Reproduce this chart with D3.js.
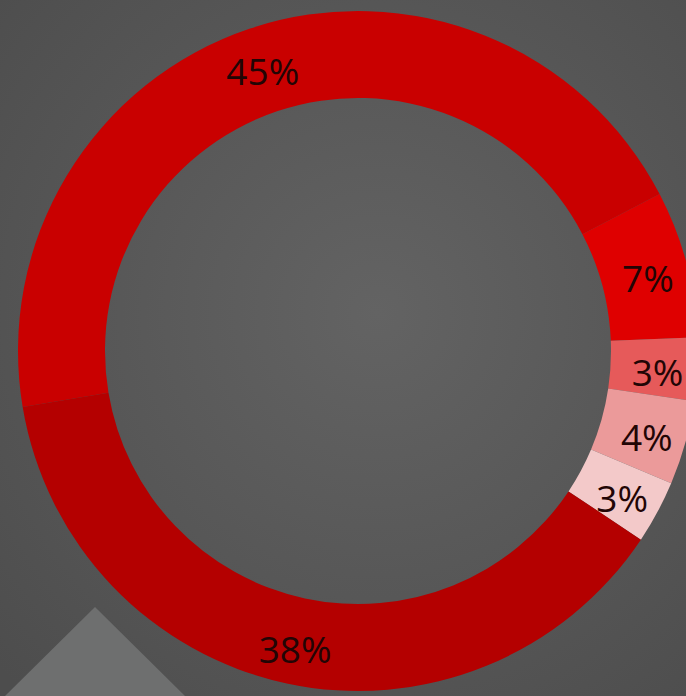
<!DOCTYPE html>
<html>
<head>
<meta charset="utf-8">
<script src="https://cdn.jsdelivr.net/npm/d3@7"></script>
<style>
  html, body { margin: 0; padding: 0; background: #555; overflow: hidden; }
</style>
</head>
<body>
<div class="container"></div>
<script>
const WIDTH = 686;
const HEIGHT = 696;
const CX = 358, CY = 351;
const OUTER = 340, INNER = 253;
const LABELRADIUS = 300;

// slices, clockwise from the left side
var labels = ["45%", "7%", "3%", "4%", "3%", "38%"];
var values = [45, 7, 3, 4, 3, 38];
var colors = ["#c90000", "#df0000", "#e65a5a", "#eb9a9a", "#f3c9c9", "#b40000"];

var startAngle = -99.5 * Math.PI / 180;

var svg = d3.select(".container").append("svg")
    .attr("width", WIDTH)
    .attr("height", HEIGHT);

var defs = svg.append("defs");
var grad = defs.append("radialGradient")
    .attr("id", "bg")
    .attr("cx", "55%").attr("cy", "45%").attr("r", "75%");
grad.append("stop").attr("offset", "0%").attr("stop-color", "#636363");
grad.append("stop").attr("offset", "100%").attr("stop-color", "#4d4d4d");

svg.append("rect")
    .attr("width", WIDTH)
    .attr("height", HEIGHT)
    .attr("fill", "url(#bg)");

// decorative grey shape in the corner
svg.append("polygon")
    .attr("points", "5,696 95,607 185,696")
    .attr("fill", "#6e6f6f");

var pie = d3.pie()
    .sort(null)
    .startAngle(startAngle)
    .endAngle(startAngle + 2 * Math.PI);

var arc = d3.arc()
    .innerRadius(INNER)
    .outerRadius(OUTER);

var labelArc = d3.arc()
    .innerRadius(LABELRADIUS)
    .outerRadius(LABELRADIUS);

var g = svg.append("g")
    .attr("transform", "translate(" + CX + "," + CY + ")");

var slices = pie(values);

g.selectAll("path")
    .data(slices)
    .enter().append("path")
    .attr("d", arc)
    .attr("fill", function(d, i) { return colors[i]; });

g.selectAll("text")
    .data(slices)
    .enter().append("text")
    .attr("transform", function(d) { return "translate(" + labelArc.centroid(d) + ")"; })
    .attr("text-anchor", "middle")
    .attr("dominant-baseline", "central")
    .attr("dy", 4)
    .attr("font-family", "'Open Sans', sans-serif")
    .attr("font-size", 37)
    .attr("fill", "#220505")
    .text(function(d, i) { return labels[i]; });
</script>
</body>
</html>
